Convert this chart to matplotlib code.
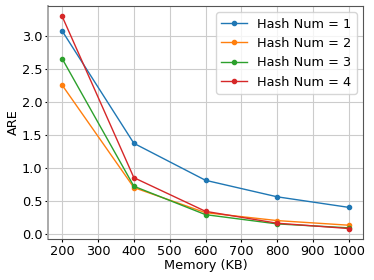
import matplotlib
matplotlib.use('Agg')
import matplotlib.pyplot as plt

memory = [200, 400, 600, 800, 1000]
hash1 = [3.08, 1.38, 0.82, 0.57, 0.41]
hash2 = [2.26, 0.71, 0.33, 0.21, 0.14]
hash3 = [2.66, 0.73, 0.30, 0.16, 0.10]
hash4 = [3.30, 0.86, 0.35, 0.17, 0.09]
labels = ['Hash Num = 1', 'Hash Num = 2', 'Hash Num = 3', 'Hash Num = 4']

plt.rcParams['font.size'] = 9.3
fig, ax = plt.subplots(figsize=(3.74, 2.8), dpi=100)
for values, label in zip([hash1, hash2, hash3, hash4], labels):
    ax.plot(memory, values, marker='o', markersize=3, linewidth=1, label=label)

ax.grid(True, color='#cccccc', linewidth=0.8)
ax.set_axisbelow(True)
ax.tick_params(length=2, pad=2)
ax.set_xlabel('Memory (KB)', labelpad=1)
ax.set_ylabel('ARE')
ax.yaxis.set_label_coords(-0.088, 0.5)
ax.set_xticks([200, 300, 400, 500, 600, 700, 800, 900, 1000])
ax.legend(loc='upper right')
for s in ax.spines.values():
    s.set_color('#555555')
ax.spines['left'].set_color('#aaaaaa')
ax.spines['left'].set_linewidth(1.4)

fig.subplots_adjust(left=0.128, right=0.971, top=0.979, bottom=0.146)
fig.savefig('out.png', dpi=100)
